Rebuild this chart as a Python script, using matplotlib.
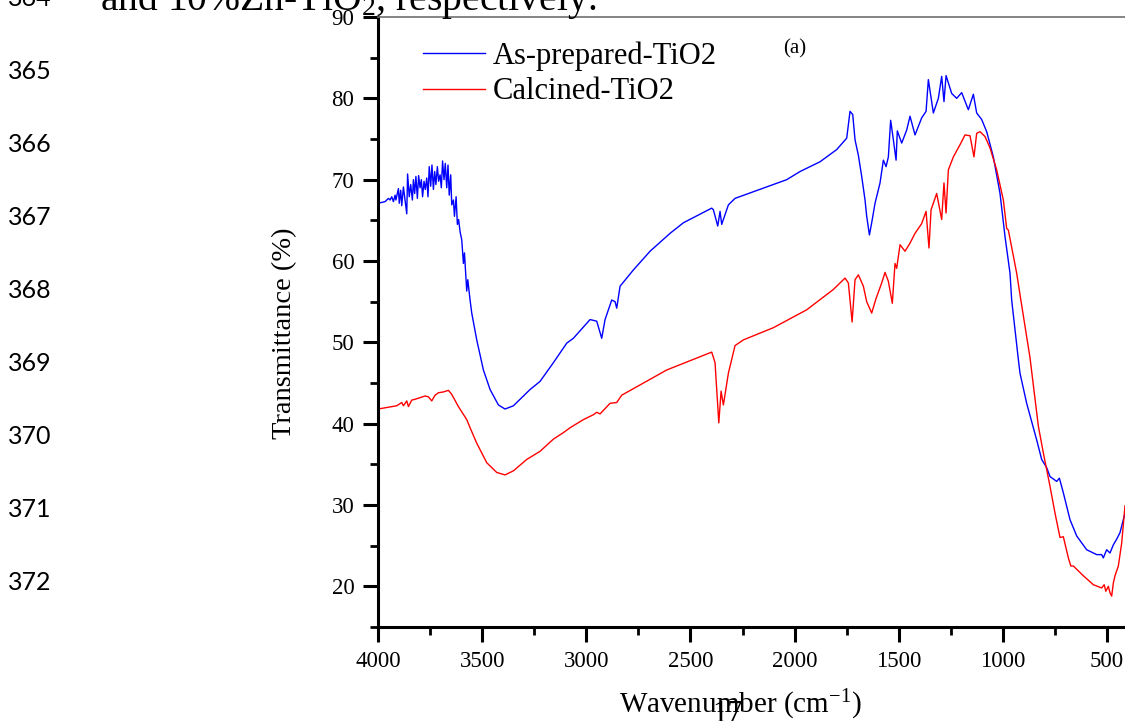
import matplotlib
matplotlib.use("Agg")
import matplotlib.pyplot as plt
from matplotlib.ticker import MultipleLocator

plt.rcParams['font.family'] = ['Liberation Serif', 'DejaVu Serif']
plt.rcParams['mathtext.fontset'] = 'custom'
plt.rcParams['mathtext.rm'] = 'Liberation Serif'
plt.rcParams['mathtext.it'] = 'Liberation Serif:italic'

# ---------------- data ----------------
asprep_wn = [4000, 3966, 3950, 3942, 3934, 3926, 3918, 3914, 3902, 3898, 3891, 3886, 3878, 3870,
             3862, 3858, 3850, 3843, 3835, 3830, 3824, 3818, 3811, 3805, 3798, 3792, 3786, 3779,
             3773, 3766, 3760, 3754, 3747, 3741, 3734, 3728, 3722, 3715, 3709, 3702, 3696, 3690,
             3683, 3677, 3670, 3664, 3658, 3651, 3646, 3638, 3633, 3625, 3619, 3613, 3606, 3598,
             3590, 3585, 3574, 3569, 3558, 3550, 3526, 3494, 3462, 3422, 3390, 3350, 3270, 3222,
             3158, 3094, 3062, 2982, 2950, 2926, 2910, 2878, 2862, 2854, 2838, 2774, 2694, 2598,
             2534, 2398, 2390, 2369, 2358, 2350, 2318, 2286, 2038, 1974, 1878, 1798, 1750, 1734,
             1721, 1710, 1694, 1678, 1662, 1654, 1641, 1630, 1614, 1590, 1574, 1561, 1550, 1539,
             1526, 1513, 1507, 1486, 1462, 1446, 1422, 1390, 1369, 1358, 1334, 1310, 1294, 1283,
             1273, 1246, 1222, 1198, 1166, 1142, 1126, 1102, 1078, 1046, 1014, 990, 966, 958,
             926, 918, 886, 838, 814, 790, 774, 742, 729, 710, 678, 646, 598, 550, 526, 518, 502,
             486, 470, 454, 438, 414]
asprep_T = [67.1, 67.3, 67.7, 67.5, 67.9, 67.3, 68.1, 67.5, 68.9, 67.1, 68.7, 66.8, 69.1, 67.5,
            65.8, 70.7, 67.9, 69.4, 67.5, 70.0, 68.3, 70.4, 67.7, 70.5, 69.0, 70.0, 67.9, 69.8,
            68.8, 70.2, 67.9, 71.6, 69.2, 71.8, 68.8, 71.0, 69.4, 71.6, 69.8, 70.6, 69.0, 72.3,
            70.0, 72.0, 69.0, 71.8, 68.1, 70.6, 66.9, 67.5, 65.5, 67.9, 64.5, 65.1, 63.6, 62.6,
            59.7, 61.0, 56.3, 57.7, 55.2, 53.6, 50.3, 46.6, 44.2, 42.3, 41.8, 42.2, 44.2, 45.2,
            47.5, 49.9, 50.5, 52.8, 52.6, 50.5, 52.8, 55.2, 55.0, 54.2, 56.9, 58.9, 61.2, 63.4,
            64.7, 66.5, 66.3, 64.3, 66.1, 64.5, 66.9, 67.7, 70.0, 71.0, 72.2, 73.7, 75.1, 78.4,
            78.0, 74.9, 73.0, 70.4, 67.5, 65.5, 63.2, 64.7, 67.1, 69.6, 72.4, 71.6, 72.8, 77.3,
            74.9, 72.4, 76.0, 74.5, 76.1, 77.8, 75.5, 77.6, 78.4, 82.3, 78.2, 80.0, 82.7, 79.6,
            82.8, 80.6, 80.0, 80.7, 78.6, 80.5, 78.2, 77.4, 75.9, 72.8, 68.3, 63.0, 58.5, 55.2,
            47.9, 46.2, 42.5, 38.0, 35.6, 34.6, 33.5, 32.9, 33.3, 31.5, 28.2, 26.2, 24.5, 23.9,
            23.9, 23.5, 24.5, 24.1, 25.1, 25.8, 26.6, 29.0]

calcined_wn = [4000, 3910, 3886, 3878, 3862, 3854, 3838, 3822, 3798, 3774, 3758, 3742, 3726, 3710,
               3686, 3662, 3646, 3614, 3574, 3558, 3526, 3478, 3430, 3390, 3350, 3286, 3222, 3158,
               3110, 3078, 3014, 2966, 2950, 2934, 2886, 2854, 2830, 2614, 2398, 2382, 2364, 2353,
               2342, 2318, 2286, 2246, 2102, 1942, 1814, 1758, 1742, 1724, 1710, 1694, 1670, 1654,
               1630, 1609, 1582, 1566, 1550, 1531, 1518, 1510, 1494, 1470, 1446, 1422, 1390, 1369,
               1355, 1345, 1318, 1294, 1283, 1273, 1262, 1238, 1206, 1182, 1158, 1139, 1126, 1110,
               1086, 1062, 1030, 998, 982, 974, 934, 914, 870, 830, 806, 774, 750, 726, 710, 686,
               674, 662, 614, 566, 526, 514, 506, 494, 486, 478, 470, 462, 446, 430, 414]
calcined_T = [41.8, 42.2, 42.6, 42.2, 42.8, 42.1, 42.9, 43.0, 43.2, 43.4, 43.3, 42.8, 43.5, 43.8,
              43.9, 44.1, 43.6, 42.1, 40.5, 39.5, 37.6, 35.2, 34.0, 33.7, 34.2, 35.6, 36.6, 38.1,
              38.9, 39.5, 40.5, 41.1, 41.4, 41.2, 42.5, 42.6, 43.5, 46.6, 48.8, 47.5, 40.1, 44.0,
              42.3, 46.2, 49.6, 50.3, 51.8, 54.0, 56.5, 57.9, 57.3, 52.5, 57.7, 58.3, 56.9, 55.0,
              53.6, 55.4, 57.3, 58.6, 57.5, 54.8, 59.7, 59.1, 62.0, 61.2, 62.2, 63.4, 64.6, 66.1,
              61.6, 66.3, 68.3, 65.1, 69.6, 65.9, 71.2, 72.8, 74.3, 75.5, 75.4, 72.8, 75.7, 75.9,
              75.3, 73.9, 71.2, 67.5, 64.0, 63.8, 58.5, 55.2, 48.1, 39.7, 36.4, 32.3, 29.0, 26.0,
              26.1, 23.5, 22.5, 22.5, 21.3, 20.2, 19.8, 20.2, 19.4, 20.0, 19.2, 18.8, 20.4, 21.3,
              22.5, 25.3, 29.9]

series_labels = ['As-prepared-TiO2', 'Calcined-TiO2']
x_ticks = [4000, 3500, 3000, 2500, 2000, 1500, 1000, 500]
y_ticks = [20, 30, 40, 50, 60, 70, 80, 90]
line_numbers = ['365', '366', '367', '368', '369', '370', '371', '372']

# ---------------- figure ----------------
W, H = 1125, 721
fig = plt.figure(figsize=(W / 100, H / 100), dpi=100)
ax = fig.add_axes([378 / W, 1 - 627 / H, (W - 378) / W, 610 / H])

l1, = ax.plot(asprep_wn, asprep_T, color='#0000FF', lw=1.0)
l2, = ax.plot(calcined_wn, calcined_T, color='#FF0000', lw=1.0)

ax.set_xlim(4000, 414)
ax.set_ylim(15, 90)
ax.set_xticks(x_ticks)
ax.set_yticks(y_ticks)
ax.xaxis.set_minor_locator(MultipleLocator(250))
ax.yaxis.set_minor_locator(MultipleLocator(5))

for s in ('left', 'bottom'):
    ax.spines[s].set_linewidth(2.2)
ax.spines['top'].set_linewidth(1.2)
ax.spines['top'].set_color('#707070')
ax.spines['right'].set_visible(False)

ax.tick_params(axis='both', which='major', direction='out', length=11, width=2.2,
               labelsize=16.5, pad=6)
ax.tick_params(axis='both', which='minor', direction='out', length=6, width=2)
ax.tick_params(top=False, right=False, which='both')

ax.set_ylabel('Transmittance (%)', fontsize=20.5)
ax.yaxis.set_label_coords(-0.1084, 0.482)
ax.set_xlabel('Wavenumber (cm$^{-1}$)', fontsize=21)
ax.xaxis.set_label_coords((740 - 378) / 747, (627 - 688) / 610)

ax.legend([l1, l2], series_labels, loc='upper left', bbox_to_anchor=(0.06, 0.9605),
          frameon=False, fontsize=22, handlelength=2.03, handletextpad=0.26,
          labelspacing=0.22, borderpad=0, borderaxespad=0)

ax.text((795 - 378) / 747, (627 - 49) / 610, '(a)', fontsize=15, ha='center', va='center',
        transform=ax.transAxes)

# ---------------- surrounding document text ----------------
fig.text(8 / W, 1 - 6 / H, '364', family=['Lato', 'DejaVu Sans'], fontsize=18, va='baseline')
fig.text(100 / W, 1 - 10 / H, 'and 10%Zn-TiO$_2$, respectively.', fontsize=28.5, va='baseline')
for i, t in enumerate(line_numbers):
    fig.text(8 / W, 1 - (79 + 73 * i) / H, t, family=['Lato', 'DejaVu Sans'], fontsize=18,
             va='baseline')
fig.text(728 / W, 1 - 700 / H, '17', fontsize=22, ha='center', va='top')

fig.savefig('out.png', dpi=100)
